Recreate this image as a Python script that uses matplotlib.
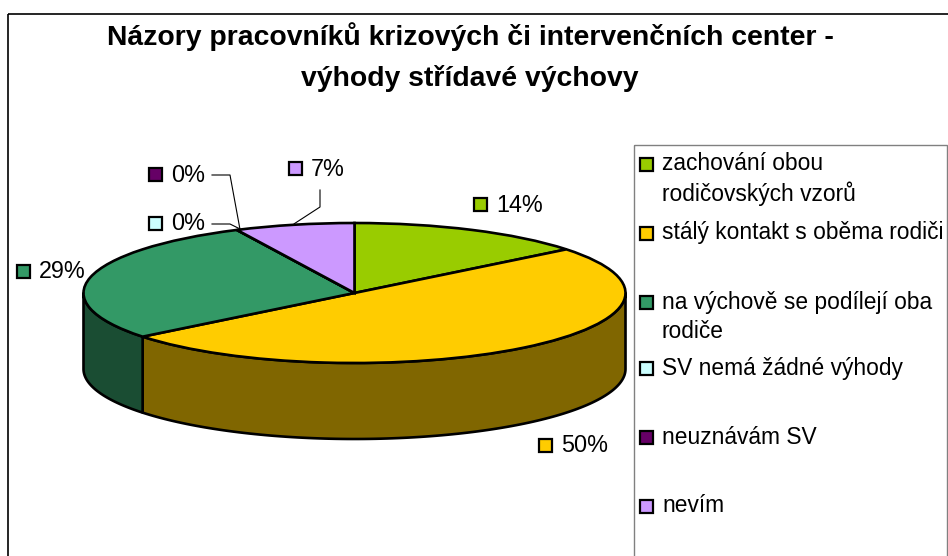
import numpy as np
import matplotlib
matplotlib.use("Agg")
import matplotlib.pyplot as plt
from matplotlib.patches import Rectangle

plt.rcParams['font.family'] = ['Liberation Sans', 'DejaVu Sans']

title_lines = ["Názory pracovníků krizových či intervenčních center -", "výhody střídavé výchovy"]
categories = ["zachování obou\nrodičovských vzorů", "stálý kontakt s oběma rodiči",
              "na výchově se podílejí oba\nrodiče", "SV nemá žádné výhody",
              "neuznávám SV", "nevím"]
values = [2, 7, 4, 0, 0, 1]
colors = ["#99CC00", "#FFCC00", "#339966", "#CCFFFF", "#660066", "#CC99FF"]
side_colors = ["#4D6600", "#806600", "#1A4D33", "#668080", "#330033", "#664D80"]

W, H = 948, 556
CX, CY, RX, RY, DEPTH = 354.5, 293, 271, 70, 76
LW = 1.9

fig = plt.figure(figsize=(W / 100, H / 100), dpi=100, facecolor="white")

# pixel overlay for frame, text and legend
ov = fig.add_axes([0, 0, 1, 1], zorder=3)
ov.set_xlim(0, W); ov.set_ylim(H, 0); ov.axis("off"); ov.patch.set_alpha(0)

# pie axes: unit circle mapped on to the flattened ellipse
ax = fig.add_axes([0, 0, 1, 1], zorder=2)
wedges, _ = ax.pie(values, colors=colors, startangle=90, counterclock=False, radius=1,
                   wedgeprops=dict(edgecolor="black", linewidth=LW))
ax.set_aspect("auto")
ax.set_xlim((0 - CX) / RX, (W - CX) / RX)
ax.set_ylim((CY - H) / RY, CY / RY)
ax.axis("off")

d = DEPTH / RY
total = sum(values)
edges = np.concatenate([[0], np.cumsum(values)]) / total * 360
for a0, a1, sc in zip(edges[:-1], edges[1:], side_colors):
    lo, hi = max(a0, 90), min(a1, 270)
    if hi <= lo:
        continue
    t = np.radians(np.linspace(lo, hi, 120))
    x, y = np.sin(t), np.cos(t)
    ax.fill(np.r_[x, x[::-1]], np.r_[y, y[::-1] - d], facecolor=sc,
            edgecolor="black", linewidth=LW, zorder=0.5, joinstyle="round")

def to_px(angle):
    t = np.radians(angle)
    return CX + RX * np.sin(t), CY - RY * np.cos(t)

# outer frame (runs off the picture at right and bottom) and legend box
ov.add_patch(Rectangle((8.5, 14), 960, 580, fill=False, ec="black", lw=1.2, clip_on=False))
ov.add_patch(Rectangle((634, 145), 313, 430, fill=False, ec="#808080", lw=1.0, clip_on=False))

ov.text(470, 37, title_lines[0], ha="center", va="center", fontsize=20.4, fontweight="bold")
ov.text(470, 79, title_lines[1], ha="center", va="center", fontsize=20.4, fontweight="bold")

# data labels
pct = [f"{round(v / total * 100)}%" for v in values]
label_pos = [(481, 204), (546, 445), (24, 271), (156, 223), (156, 174), (296, 168)]
for (sx, sy), p, c in zip(label_pos, pct, colors):
    ov.add_patch(Rectangle((sx - 6.5, sy - 6.5), 13, 13, fc=c, ec="black", lw=1.6))
    ov.text(sx + 15, sy + 1, p, ha="left", va="center", fontsize=16.8, color="black")

# leader lines
lx, ly = to_px(edges[3])
ov.plot([212, 230, lx + 3], [175, 175, ly - 1], color="black", lw=0.8)
ov.plot([212, 230, lx + 3], [224, 224, ly - 1], color="black", lw=0.8)
mx, my = to_px((edges[5] + edges[6]) / 2)
ov.plot([320, 320, mx], [190, 207, my - 1], color="black", lw=0.8)

# legend
legend_y = [164, 233, 302, 368, 437, 506]
for y, name, c in zip(legend_y, categories, colors):
    ov.add_patch(Rectangle((640, y - 6.5), 13, 13, fc=c, ec="black", lw=1.6))
    for i, line in enumerate(name.split("\n")):
        ov.text(662, y + i * 30, line, ha="left", va="center", fontsize=16.4,
                color="black")

fig.savefig("out.png", dpi=100, facecolor="white")
